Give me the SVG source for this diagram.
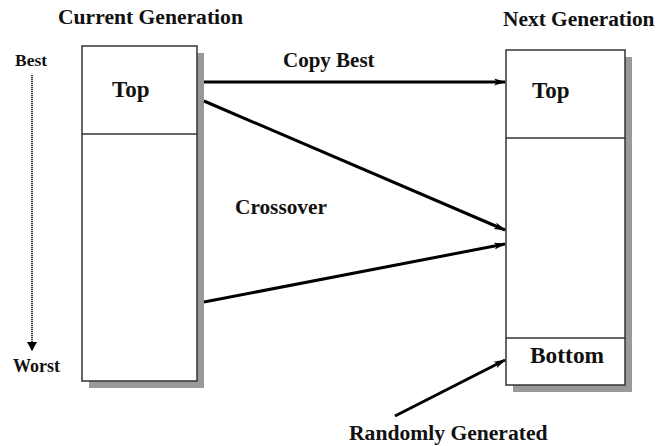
<svg xmlns="http://www.w3.org/2000/svg" width="657" height="446" viewBox="0 0 657 446">
<style>
text{font-family:"Liberation Serif","Times New Roman",serif;font-weight:bold;fill:#111}
.box{fill:#fff;stroke:#333;stroke-width:1.5}
.shadow{fill:#999}
.div{stroke:#333;stroke-width:1.5}
.arr{stroke:#000;stroke-width:3;fill:none;marker-end:url(#ah)}
</style>
<defs>
<marker id="ah" markerWidth="12" markerHeight="8" refX="11" refY="4" orient="auto" markerUnits="userSpaceOnUse">
<path d="M0,0.5 L12,4 L0,7.5 L3,4 z" fill="#000"/>
</marker>
<marker id="dh" markerWidth="10" markerHeight="10" refX="5" refY="9" orient="0" markerUnits="userSpaceOnUse">
<path d="M0,0 L10,0 L5,9 z" fill="#000"/>
</marker>
</defs>
<rect width="657" height="446" fill="#fff"/>
<text x="58" y="24" font-size="21.6">Current Generation</text>
<text x="503" y="26" font-size="21.4">Next Generation</text>
<g id="scale">
<text x="15" y="66" font-size="17.5">Best</text>
<line x1="32" y1="75" x2="32" y2="351" stroke="#000" stroke-width="1.5" stroke-dasharray="1.2,0.8" marker-end="url(#dh)"/>
<text x="13" y="372" font-size="18">Worst</text>
</g>
<g id="current">
<rect class="shadow" x="89" y="53" width="115" height="335"/>
<rect class="box" x="82" y="46" width="115" height="335"/>
<line class="div" x1="82" y1="134" x2="197" y2="134"/>
<text x="112" y="97" font-size="23">Top</text>
</g>
<g id="next">
<rect class="shadow" x="513" y="57" width="119" height="335"/>
<rect class="box" x="506" y="50" width="119" height="335"/>
<line class="div" x1="506" y1="138" x2="625" y2="138"/>
<line class="div" x1="506" y1="338" x2="625" y2="338"/>
<text x="532" y="98" font-size="23">Top</text>
<text x="530" y="363" font-size="23.4">Bottom</text>
</g>
<g id="connectors">
<line class="arr" x1="204" y1="82" x2="505" y2="82"/>
<line class="arr" x1="204" y1="101" x2="505" y2="230"/>
<line class="arr" x1="204" y1="302" x2="505" y2="244"/>
<line class="arr" x1="395" y1="416" x2="505" y2="360"/>
</g>
<text x="283" y="67" font-size="21">Copy Best</text>
<text x="235" y="214" font-size="21.3">Crossover</text>
<text x="349" y="440" font-size="21.6">Randomly Generated</text>
</svg>
